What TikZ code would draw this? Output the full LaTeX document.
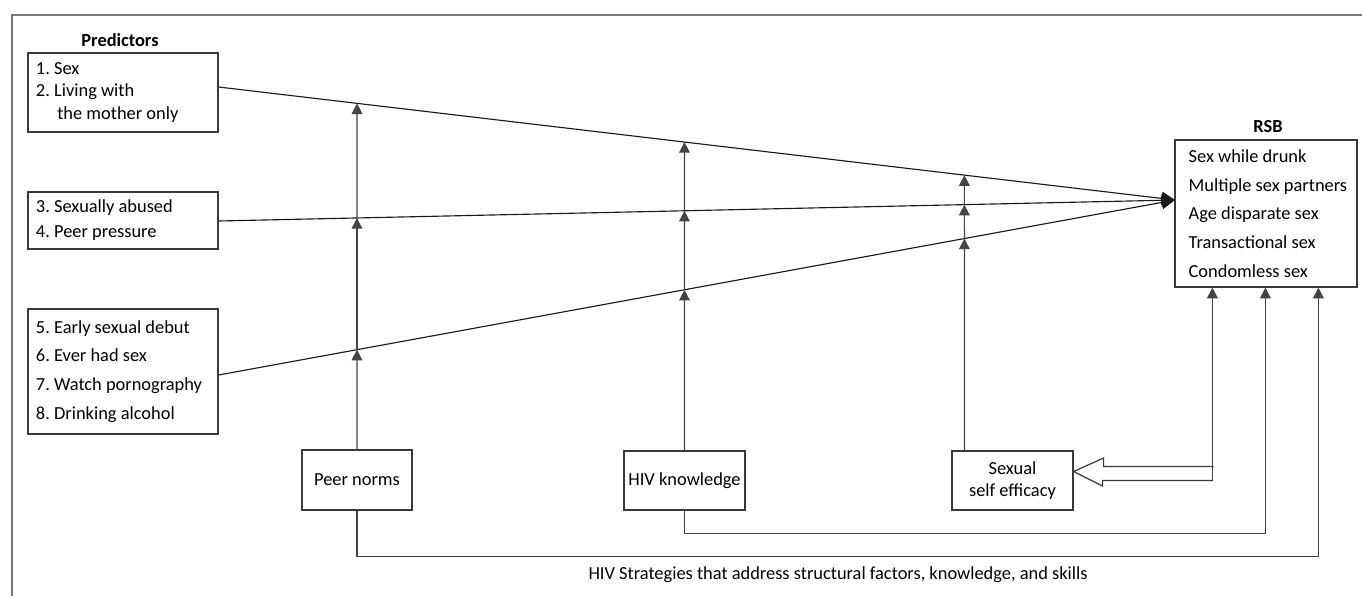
\documentclass[tikz,border=0pt]{standalone}
\usepackage{fontspec}
\setmainfont{Carlito}
\usetikzlibrary{arrows.meta,calc}
\definecolor{boxc}{HTML}{3A3A3A}
\definecolor{linec}{HTML}{1A1A1A}
\definecolor{vlinec}{HTML}{444444}
\definecolor{framec}{HTML}{7A7A7A}
\tikzset{
  box/.style={draw=boxc, line width=0.9pt, rectangle, inner ysep=0pt, align=flush left},
  cbox/.style={draw=boxc, line width=0.9pt, rectangle, inner sep=0pt, align=center},
  conn/.style={draw=linec, line width=0.85pt, -{Triangle[length=10pt,width=10pt]}},
  varrow/.style={draw=vlinec, line width=0.9pt, -{Triangle[length=8pt,width=8pt]}},
  hollow/.style={draw=boxc, line width=0.9pt, fill=white},
  lab/.style={inner sep=0pt}
}
\frenchspacing
\begin{document}
\begin{tikzpicture}[x=0.75pt,y=-0.75pt, font=\fontsize{13.8}{16.9}\selectfont]
\useasboundingbox (0,0) rectangle (1362,596);
% frame
\draw[framec, line width=1.1pt] (12,596) -- (12,15) -- (1362,15);

% predictor boxes
\node[box, minimum width=142.5pt, minimum height=59.25pt, text width=130.5pt, inner xsep=6pt,
      font=\fontsize{13.8}{16.9}\selectfont] (b1) at (123,92.5)
  {1. Sex\\2. Living with\\\hspace*{16pt}the mother only};
\node[box, minimum width=142.5pt, minimum height=42.75pt, text width=130.5pt, inner xsep=6pt,
      font=\fontsize{13.8}{18.75}\selectfont] (b2) at (123,220.5)
  {3. Sexually abused\\4. Peer pressure};
\node[box, minimum width=142.5pt, minimum height=93.75pt, text width=130.5pt, inner xsep=6pt,
      font=\fontsize{13.8}{21.5}\selectfont] (b3) at (123,371.5)
  {5. Early sexual debut\\6. Ever had sex\\7. Watch pornography\\8. Drinking alcohol};
\node[lab] (pred) at (120,40) {\textbf{Predictors}};

% outcome box
\node[box, minimum width=136.5pt, minimum height=110.25pt, text width=126pt, inner xsep=5.25pt,
      font=\fontsize{13.8}{21.5}\selectfont] (rsb) at (1266,213.5)
  {\hspace*{5pt}Sex while drunk\\\hspace*{5pt}Multiple sex partners\\\hspace*{5pt}Age disparate sex\\\hspace*{5pt}Transactional sex\\\hspace*{5pt}Condomless sex};
\node[lab] (rsbl) at (1268,127) {\textbf{RSB}};

% moderator boxes
\node[cbox, minimum width=82.5pt, minimum height=45pt] (pn) at (357,480) {Peer norms};
\node[cbox, minimum width=90.75pt, minimum height=44.25pt] (hk) at (684.5,480.5) {HIV knowledge};
\node[cbox, minimum width=90.75pt, minimum height=44.25pt, font=\fontsize{13.8}{16.5}\selectfont] (se) at (1012.5,480.5) {Sexual\\self efficacy};

% bottom text
\node[lab] (strat) at (838,575) {HIV Strategies that address structural factors, knowledge, and skills};

% key coordinates
\coordinate (conv) at (1175,200);
\coordinate (s1) at ($(b1.east)+(0,-5.5)$);
\coordinate (s2) at ($(b2.east)+(0,0.5)$);
\coordinate (s3) at ($(b3.east)+(0,3.5)$);
\coordinate (setop) at ($(se.north west)+(13,0)$);
\coordinate (r1) at ($(rsb.south west)+(38,0)$);
\coordinate (r2) at ($(rsb.south west)+(91,0)$);
\coordinate (r3) at ($(rsb.south west)+(144,0)$);

% predictor paths
\draw[conn] (s1) -- (conv);
\draw[conn] (s2) -- (conv);
\draw[conn] (s3) -- (conv);

% moderating arrows
\foreach \src/\n in {pn.north/p, hk.north/h, setop/e}{
  \coordinate (\n1) at (intersection cs: first line={(s1)--(conv)}, second line={(\src)--(\src |- s1)});
  \coordinate (\n2) at (intersection cs: first line={(s2)--(conv)}, second line={(\src)--(\src |- s1)});
  \coordinate (\n3) at (intersection cs: first line={(s3)--(conv)}, second line={(\src)--(\src |- s1)});
  \draw[varrow] (\src) -- (\n3);
  \draw[varrow] (\n3) -- (\n2);
  \draw[varrow] (\n2) -- (\n1);
}

% strategy feedback loops
\draw[varrow] (hk.south) -- ++(0,23) -| (r2);
\draw[varrow] (pn.south) -- ++(0,46) -| (r3);

% hollow arrow to self efficacy
\coordinate (hb) at (r1 |- se.east);
\coordinate (tip) at ($(se.east)+(0,-9)$);
\draw[hollow] (hb) -- ++(-110,0) -- ++(0,5.5) -- (tip) -- ++(30,-13.5) -- ++(0,8.5) -- ++(110,0);
\draw[varrow] (hb) -- (r1);
\end{tikzpicture}
\end{document}
